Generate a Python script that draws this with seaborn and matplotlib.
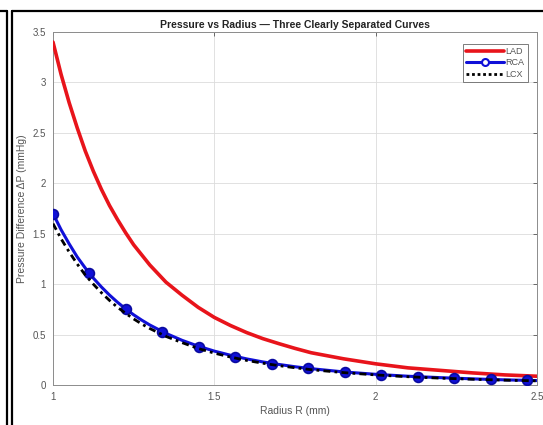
import numpy as np
import pandas as pd
import matplotlib
matplotlib.use("Agg")
import matplotlib.pyplot as plt
from matplotlib.lines import Line2D
import seaborn as sns

# radius grid (mm)
radius = [1.0, 1.025, 1.05, 1.075, 1.1, 1.125, 1.15, 1.175, 1.2, 1.225, 1.25,
          1.275, 1.3, 1.35, 1.4, 1.45, 1.5, 1.55, 1.6, 1.65, 1.7, 1.75,
          1.8, 1.9, 2.0, 2.1, 2.2, 2.3, 2.4, 2.5]
lad = [3.40, 3.08, 2.80, 2.55, 2.32, 2.12, 1.94, 1.78, 1.64, 1.51, 1.39,
       1.29, 1.19, 1.02, 0.89, 0.77, 0.67, 0.59, 0.52, 0.46, 0.41, 0.363,
       0.32, 0.26, 0.21, 0.17, 0.145, 0.12, 0.10, 0.087]
rca = [1.70, 1.54, 1.40, 1.27, 1.16, 1.06, 0.972, 0.892, 0.82, 0.755, 0.696,
       0.643, 0.595, 0.512, 0.443, 0.385, 0.336, 0.295, 0.259, 0.229, 0.204, 0.181,
       0.162, 0.130, 0.106, 0.087, 0.073, 0.061, 0.051, 0.044]
lcx = [1.60, 1.45, 1.32, 1.20, 1.09, 1.00, 0.915, 0.839, 0.77, 0.711, 0.655,
       0.605, 0.56, 0.482, 0.42, 0.362, 0.316, 0.277, 0.244, 0.216, 0.192, 0.171,
       0.152, 0.123, 0.100, 0.082, 0.068, 0.057, 0.048, 0.041]

# RCA marker positions
rca_mark_r = [1.0, 1.113, 1.226, 1.339, 1.452, 1.565, 1.678, 1.791,
              1.905, 2.018, 2.131, 2.244, 2.357, 2.470]
rca_mark_p = [1.700, 1.107, 0.753, 0.527, 0.381, 0.277, 0.213, 0.165,
              0.129, 0.102, 0.082, 0.067, 0.055, 0.046]

x_ticks = [1, 1.5, 2, 2.5]
x_ticklabels = ['1', '1.5', '2', '2.5']
y_ticks = [0, 0.5, 1, 1.5, 2, 2.5, 3, 3.5]
y_ticklabels = ['0', '0.5', '1', '1.5', '2', '2.5', '3', '3.5']

sns.set_style("white")
plt.rcParams['font.family'] = ['Liberation Sans', 'DejaVu Sans']

df = pd.DataFrame({'R': radius, 'LAD': lad, 'RCA': rca, 'LCX': lcx})
dm = pd.DataFrame({'R': rca_mark_r, 'P': rca_mark_p})

fig = plt.figure(figsize=(5.43, 4.25), dpi=100)
ax = fig.add_axes([53 / 543, 40 / 425, 484 / 543, 353 / 425])

sns.lineplot(data=df, x='R', y='LAD', ax=ax, color='#e8141b', linewidth=2.6,
             sort=False, zorder=3)
sns.lineplot(data=df, x='R', y='RCA', ax=ax, color='#1010d8', linewidth=2.2,
             sort=False, zorder=4)
sns.scatterplot(data=dm, x='R', y='P', ax=ax, color='#1010d8', s=50,
                edgecolor='#0a0aa0', linewidth=1.2, zorder=5)
sns.lineplot(data=df, x='R', y='LCX', ax=ax, color='black', linewidth=2.0,
             linestyle=(0, (2.5, 1.5, 1, 1.5)), sort=False, zorder=6)

ax.set_xlim(1, 2.5)
ax.set_ylim(0, 3.5)
ax.set_xticks(x_ticks)
ax.set_xticklabels(x_ticklabels)
ax.set_yticks(y_ticks)
ax.set_yticklabels(y_ticklabels)
ax.tick_params(direction='in', length=3, width=0.6, colors='#555555',
               labelsize=7, pad=5, top=True, right=True)
ax.grid(True, color='#dcdcdc', linewidth=0.6)
for s in ax.spines.values():
    s.set_color('#8c8c8c')
    s.set_linewidth(0.7)

ax.set_xlabel('Radius R (mm)', fontsize=7.5, color='#555555', labelpad=3)
ax.set_ylabel('Pressure Difference ΔP (mmHg)', fontsize=7.5, color='#555555',
              labelpad=4)
ax.set_title('Pressure vs Radius — Three Clearly Separated Curves',
             fontsize=7.5, fontweight='bold', color='#222222', pad=3)

handles = [
    Line2D([], [], color='#e8141b', linewidth=2.6),
    Line2D([], [], color='#1010d8', linewidth=2.2, marker='o', markersize=5,
           markerfacecolor='white', markeredgewidth=1.5),
    Line2D([], [], color='black', linewidth=2.0, linestyle=(0, (1, 1))),
]
leg = ax.legend(handles, ['LAD', 'RCA', 'LCX'], loc='upper right',
                fontsize=6.5, handlelength=4.2, handletextpad=0.2,
                borderpad=0.35, labelspacing=0.3, fancybox=False,
                framealpha=1, bbox_to_anchor=(0.99, 0.98))
leg.get_frame().set_edgecolor('#666666')
leg.get_frame().set_linewidth(0.6)
for t in leg.get_texts():
    t.set_color('#555555')

# page frame lines from the screenshot
def fline(xs, ys):
    fig.add_artist(Line2D([x / 543 for x in xs], [1 - y / 425 for y in ys],
                          color='black', linewidth=1.6))

fline([0, 7], [11, 11])
fline([7, 7], [11, 425])
fline([12, 12], [11, 425])
fline([12, 543], [11, 11])

fig.savefig('out.png', dpi=100, facecolor='white')
